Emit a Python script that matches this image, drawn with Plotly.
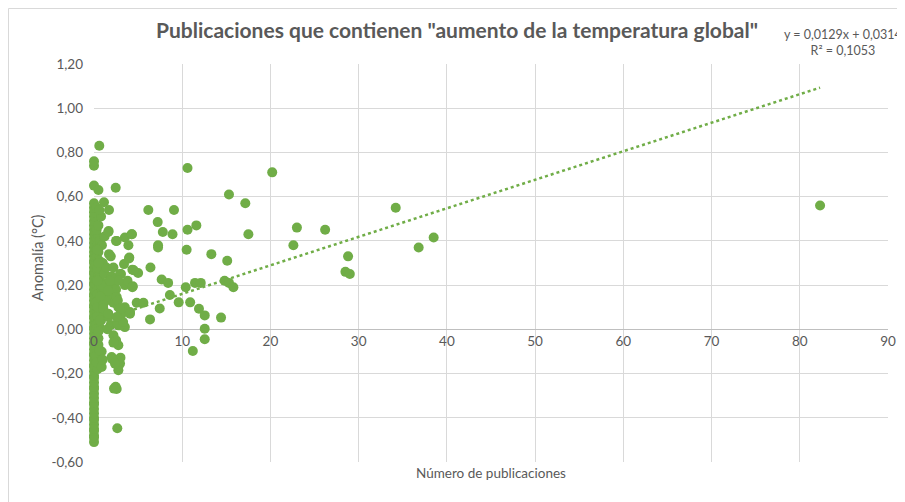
import plotly.graph_objects as go

# puntos con 0 publicaciones (columna en x = 0)
zero_pubs = [0] * 66
zero_anom = [-0.51, -0.49, -0.48, -0.46, -0.45, -0.43, -0.41, -0.40, -0.38, -0.36,
             -0.34, -0.33, -0.31, -0.29, -0.27, -0.26, -0.24, -0.22, -0.21, -0.19,
             -0.17, -0.16, -0.14, -0.12, -0.11, -0.09, -0.07, -0.06, -0.04, -0.02,
             0.00, 0.01, 0.03, 0.05, 0.06, 0.08, 0.10, 0.11, 0.13, 0.15,
             0.16, 0.18, 0.20, 0.21, 0.23, 0.25, 0.26, 0.28, 0.30, 0.31,
             0.33, 0.35, 0.37, 0.39, 0.41, 0.43, 0.45, 0.47, 0.49, 0.51,
             0.53, 0.55, 0.57, 0.65, 0.74, 0.76]

# puntos cerca de x = 0
near_pubs = [0.2, 0.3, 0.4, 0.5, 0.3, 0.6, 0.2, 0.4, 0.7, 0.5, 0.3, 0.8, 0.6, 0.2, 0.4,
             0.9, 0.5, 0.3, 0.7, 1.0, 0.4, 0.6, 0.2, 0.8, 0.5, 0.3, 0.9, 0.6, 0.4, 1.1,
             0.3, 0.5, 0.7, 0.2, 0.4, 0.6, 0.3, 0.5, 0.2, 0.4,
             1.2, 1.5, 2.0, 2.3, 1.8, 2.2, 1.3, 2.5, 1.0, 1.4, 0.9, 1.2, 0.8, 1.1, 0.7,
             0.5, 0.4, 0.3, 0.5, 0.4, 0.3, 0.5, 0.3, 0.4, 1.9, 1.5, 3.5, 3.8, 1.9, 0.8, 0.3]
near_anom = [0.44, 0.41, 0.38, 0.35, 0.33, 0.31, 0.29, 0.27, 0.25, 0.24, 0.22, 0.21, 0.19, 0.17, 0.16,
             0.14, 0.13, 0.12, 0.10, 0.09, 0.08, 0.07, 0.05, 0.04, 0.03, 0.02, 0.18, 0.23, 0.28, 0.16,
             0.36, 0.42, 0.40, 0.12, 0.06, 0.01, -0.03, -0.07, -0.12, -0.18,
             0.25, 0.21, 0.24, 0.20, 0.15, 0.12, 0.13, 0.18, 0.30, 0.28, 0.38, 0.42, 0.20, 0.06, 0.15,
             0.30, 0.22, 0.45, 0.47, 0.10, 0.00, -0.04, -0.15, 0.36, 0.02, 0.00, 0.20, 0.22, 0.33, 0.51, 0.55]

# puntos dispersos
pubs = [0.6, 0.5, 2.46, 1.13, 1.7, 0.6, 6.16, 9.07, 7.22, 7.8, 8.9, 10.6, 11.6, 10.5, 7.26,
        7.26, 1.66, 2.5, 3.5, 4.3, 3.9, 1.7, 4.0, 2.2, 3.4, 3.06, 4.35, 5.0, 6.4, 4.4,
        7.67, 8.4, 10.4, 11.45, 12.1, 4.84, 5.6, 8.6, 9.6, 10.9, 6.35, 7.45, 4.08, 10.6, 20.2,
        15.3, 17.15, 17.5, 13.3, 15.1, 23.0, 26.2, 22.6, 34.2, 28.8, 28.5, 29.0, 36.8, 38.5, 14.8,
        15.3, 15.8, 11.9, 12.55, 14.4, 12.55, 12.55, 11.2, 82.3,
        2.76, 3.5, 0.5, 2.2, 2.5, 2.76, 0.87, 2.0, 2.57, 2.95, 2.76, 0.87, 0.6, 0.98, 2.46,
        2.57, 2.64, 2.2, 3.0, 2.07, 2.38, 2.27, 2.95, 2.64, 0.68, 1.62, 1.05, 2.76, 3.14, 1.62,
        4.27, 2.57, 3.97, 4.5, 2.95, 2.76, 1.8, 4.35, 1.6, 2.57, 2.7, 3.5, 2.95, 1.05, 1.62,
        4.08, 3.3, 2.57]
anom = [0.83, 0.63, 0.64, 0.575, 0.54, 0.54, 0.54, 0.54, 0.485, 0.44, 0.43, 0.45, 0.47, 0.36, 0.38,
        0.37, 0.445, 0.40, 0.415, 0.43, 0.38, 0.34, 0.325, 0.28, 0.295, 0.25, 0.27, 0.255, 0.28, 0.195,
        0.225, 0.21, 0.19, 0.21, 0.21, 0.12, 0.12, 0.155, 0.122, 0.122, 0.045, 0.094, 0.078, 0.73, 0.71,
        0.61, 0.57, 0.43, 0.34, 0.31, 0.46, 0.45, 0.38, 0.55, 0.33, 0.26, 0.25, 0.37, 0.415, 0.22,
        0.21, 0.19, 0.093, 0.063, 0.053, 0.003, -0.045, -0.098, 0.56,
        0.018, 0.01, -0.01, -0.027, -0.05, -0.072, -0.10, -0.125, -0.14, -0.155, -0.185, -0.17, -0.095, -0.137, -0.26,
        -0.27, -0.447, -0.06, -0.128, -0.135, -0.155, -0.268, 0.018, 0.025, 0.04, 0.056, 0.11, 0.10, 0.07, 0.44,
        0.43, 0.40, 0.32, 0.267, 0.25, 0.22, 0.22, 0.19, 0.175, 0.146, 0.13, 0.10, 0.093, 0.094, 0.071,
        0.071, 0.033, 0.056]

x_all = zero_pubs + near_pubs + pubs
y_all = zero_anom + near_anom + anom

# línea de tendencia lineal (Excel)
slope = 0.0129
intercept = 0.0314
trend_x = [0, max(x_all)]

y_ticks = [-0.6, -0.4, -0.2, 0, 0.2, 0.4, 0.6, 0.8, 1.0, 1.2]
y_labels = ["-0,60", "-0,40", "-0,20", "0,00", "0,20", "0,40", "0,60", "0,80", "1,00", "1,20"]
x_ticks = [0, 10, 20, 30, 40, 50, 60, 70, 80, 90]

green = "#70AD47"
gray = "#595959"
font = "Lato"

fig = go.Figure()
fig.add_trace(go.Scatter(
    x=trend_x, y=[slope * v + intercept for v in trend_x],
    mode="lines", line=dict(color=green, width=2.5, dash="dot"),
    hoverinfo="skip"))
fig.add_trace(go.Scatter(
    x=x_all, y=y_all, mode="markers", cliponaxis=False,
    marker=dict(color=green, size=10)))

# la página deja 8 px de margen al body: todo se mide en px de pantalla - 8
OFF = 8
W, H = 905 - OFF, 502 - OFF
L, R, T, B = 94 - OFF, 888 - OFF, 64 - OFF, 462 - OFF
def px(x): return (x - OFF - L) / (R - L)
def py(y): return (B - (y - OFF)) / (B - T)

fig.update_layout(
    width=W, height=H,
    margin=dict(l=L, r=W - R, t=T, b=H - B, autoexpand=False),
    paper_bgcolor="white", plot_bgcolor="white",
    showlegend=False,
    font=dict(family=font, color=gray, size=13),
    xaxis=dict(range=[0, 90], tickvals=x_ticks, showgrid=True, gridcolor="#d9d9d9",
               gridwidth=1, zeroline=False, showline=False, automargin=False,
               anchor="free", position=0.6 / 1.8, ticks="", ticklabelstandoff=2,
               tickfont=dict(size=13.5, color=gray)),
    yaxis=dict(range=[-0.6, 1.2], tickvals=y_ticks, ticktext=y_labels,
               showgrid=True, gridcolor="#d9d9d9", gridwidth=1, automargin=False,
               zeroline=True, zerolinecolor="#bfbfbf", zerolinewidth=1,
               ticks="", ticklabelstandoff=10,
               tickfont=dict(size=13.5, color=gray)),
    shapes=[dict(type="rect", xref="paper", yref="paper",
                 x0=px(OFF + 0.5), x1=px(915), y0=py(510), y1=py(OFF + 0.5),
                 line=dict(color="#d9d9d9", width=1), layer="below")],
    annotations=[
        dict(text='<b>Publicaciones que contienen "aumento de la temperatura global"</b>',
             xref="paper", yref="paper", x=px(457), y=py(30), showarrow=False,
             font=dict(size=21, color=gray), xanchor="center", yanchor="middle"),
        dict(text="y = 0,0129x + 0,0314<br>R² = 0,1053",
             xref="paper", yref="paper", x=px(843), y=py(42), showarrow=False,
             font=dict(size=12.5, color=gray), xanchor="center", yanchor="middle",
             align="center"),
        dict(text="Anomalía (°C)", xref="paper", yref="paper",
             x=px(37), y=py(258), showarrow=False, textangle=-90,
             font=dict(size=14.5, color=gray), xanchor="center", yanchor="middle"),
        dict(text="Número de publicaciones", xref="paper", yref="paper",
             x=px(491), y=py(473), showarrow=False,
             font=dict(size=13.5, color=gray), xanchor="center", yanchor="middle"),
    ],
)

fig.write_html("out.html")
